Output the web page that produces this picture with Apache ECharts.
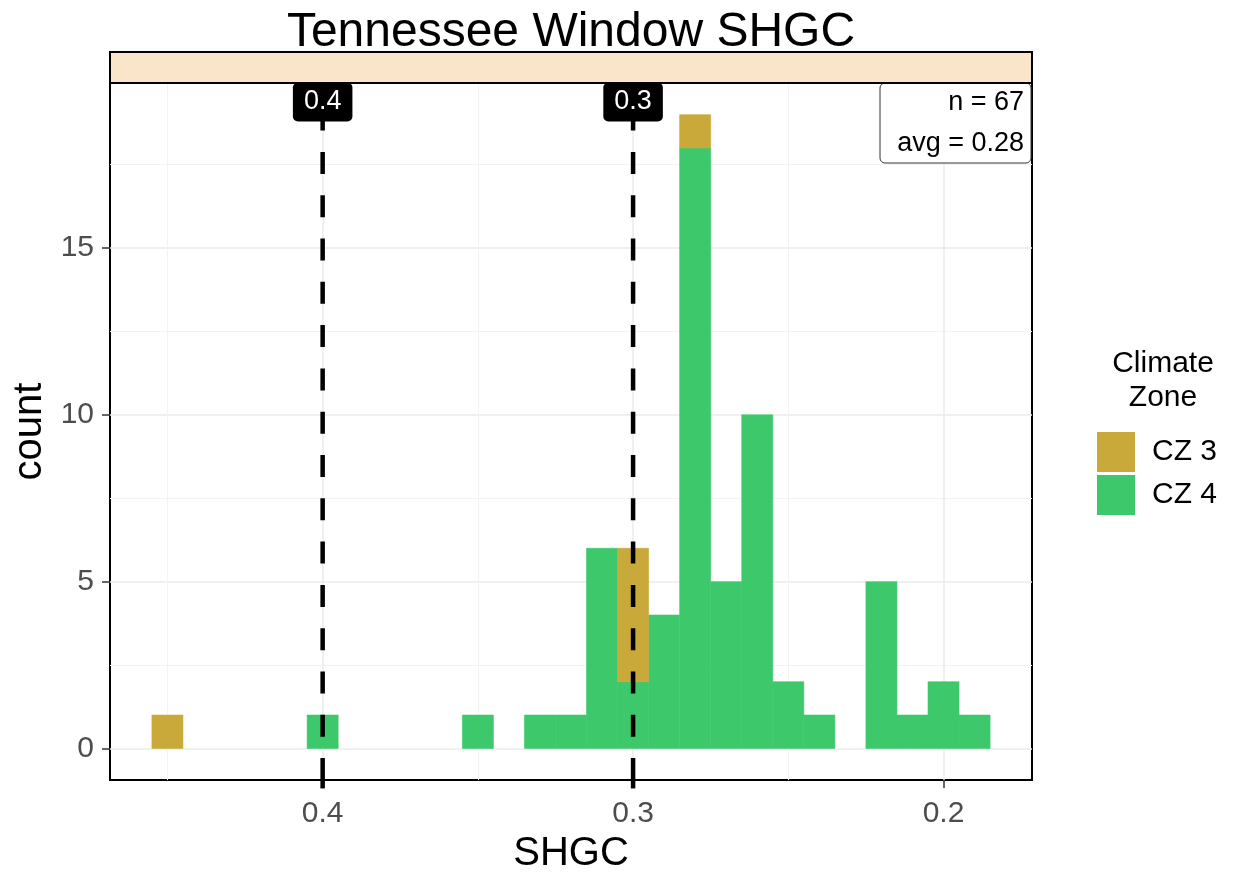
<!DOCTYPE html>
<html><head><meta charset="utf-8">
<script src="https://cdn.jsdelivr.net/npm/echarts@6/dist/echarts.min.js"></script>
<style>html,body{margin:0;padding:0;background:#fff}#c{width:1234px;height:879px}</style>
</head><body><div id="c"></div>
<script>
// ---- data ----
const binCenters = [0.45, 0.40, 0.35, 0.33, 0.32, 0.31, 0.30, 0.29, 0.28, 0.27, 0.26, 0.25, 0.24, 0.22, 0.21, 0.20, 0.19];
const cz3Counts  = [1,    0,    0,    0,    0,    0,    4,    0,    1,    0,    0,    0,    0,    0,    0,    0,    0];
const cz4Counts  = [0,    1,    1,    1,    1,    6,    2,    4,    18,   5,    10,   2,    1,    5,    1,    2,    1];
const binWidth = 0.01;
const seriesNames = ['CZ 3', 'CZ 4'];
const refLines = [0.4, 0.3];
const refLabels = ['0.4', '0.3'];
const xTicks = [0.4, 0.3, 0.2];
const xTickLabels = ['0.4', '0.3', '0.2'];
const xMinorTicks = [0.45, 0.35, 0.25];
const yTicks = [0, 5, 10, 15];
const yTickLabels = ['0', '5', '10', '15'];
const yMinorTicks = [2.5, 7.5, 12.5, 17.5];
const xRange = [0.1715, 0.4685];
const yRange = [-0.95, 19.95];
const nObs = 67;
const avgVal = 0.28;
const titleText = 'Tennessee Window SHGC';
const xName = 'SHGC', yName = 'count';
const legendTitle = 'Climate\nZone';

// ---- build ----
const FONT = 'Liberation Sans, Arial, Helvetica, sans-serif';
const COL3 = '#C9A93A', COL4 = '#3DC96B';

const cz4Data = [], cz3Data = [];
binCenters.forEach((c, i) => {
  if (cz4Counts[i] > 0) cz4Data.push([c, 0, cz4Counts[i]]);
  if (cz3Counts[i] > 0) cz3Data.push([c, cz4Counts[i], cz4Counts[i] + cz3Counts[i]]);
});

function barRender(params, api) {
  const c = api.value(0), y0 = api.value(1), y1 = api.value(2);
  const p0 = api.coord([c + binWidth / 2, y1]);
  const p1 = api.coord([c - binWidth / 2, y0]);
  const x = Math.min(p0[0], p1[0]), w = Math.abs(p1[0] - p0[0]);
  const y = Math.min(p0[1], p1[1]), h = Math.abs(p1[1] - p0[1]);
  const col = api.visual('color');
  return { type: 'rect', shape: { x: x, y: y, width: w, height: h },
           style: { fill: col, stroke: col, lineWidth: 0.6 } };
}

function vlineRender(params, api) {
  const v = api.value(0);
  const idx = params.dataIndex;
  const pBot = api.coord([v, yRange[0]]);
  const pTop = api.coord([v, yRange[1]]);
  const pExt = api.coord([v, -1.2]);
  return {
    type: 'group',
    children: [
      { type: 'line', shape: { x1: pBot[0], y1: pBot[1], x2: pTop[0], y2: pTop[1] },
        style: { stroke: '#000', lineWidth: 4.5, lineDash: [22, 21.3] } },
      { type: 'line', shape: { x1: pBot[0], y1: pBot[1], x2: pExt[0], y2: pExt[1] },
        style: { stroke: '#000', lineWidth: 4.5 } },
      { type: 'text', x: pTop[0], y: pTop[1] + 19,
        style: { text: refLabels[idx], align: 'center', verticalAlign: 'middle',
                 fill: '#fff', font: '27px ' + FONT, backgroundColor: '#000',
                 borderRadius: 5, padding: [6, 11, 6, 11] } }
    ]
  };
}

// annotation box anchored to the top-right corner of the panel
function annotRender(params, api) {
  const corner = api.coord([xRange[0], yRange[1]]);
  const rx = corner[0], ty = corner[1];
  return {
    type: 'group',
    children: [
      { type: 'rect', shape: { x: rx - 152, y: ty, width: 151, height: 80, r: 5 },
        style: { fill: '#fff', stroke: '#333', lineWidth: 1 } },
      { type: 'text', x: rx - 8, y: ty + 20,
        style: { text: 'n = ' + nObs, align: 'right', verticalAlign: 'middle', font: '27px ' + FONT, fill: '#000' } },
      { type: 'text', x: rx - 8, y: ty + 61,
        style: { text: 'avg = ' + avgVal.toFixed(2), align: 'right', verticalAlign: 'middle', font: '27px ' + FONT, fill: '#000' } }
    ]
  };
}

const chart = echarts.init(document.getElementById('c'), null, { renderer: 'canvas' });
chart.setOption({
  animation: false,
  backgroundColor: '#fff',
  title: {
    text: titleText, left: 571, top: 9, padding: 0, textAlign: 'center',
    textStyle: { fontSize: 48, fontWeight: 'normal', color: '#000', fontFamily: FONT }
  },
  grid: { left: 110, right: 202, top: 83, bottom: 97, show: true, borderColor: '#000', borderWidth: 2, backgroundColor: 'transparent', containLabel: false },
  xAxis: [
    { type: 'value', inverse: true, min: xRange[0], max: xRange[1], position: 'bottom',
      name: xName, nameLocation: 'middle', nameGap: 53,
      nameTextStyle: { fontSize: 40, color: '#000', fontFamily: FONT },
      axisLine: { show: false, onZero: false },
      axisTick: { show: true, length: 8, inside: false, customValues: xTicks, lineStyle: { color: '#333', width: 1.5 } },
      axisLabel: { show: true, customValues: xTicks, margin: 19, fontSize: 30, color: '#4D4D4D', fontFamily: FONT,
                   formatter: v => xTickLabels[xTicks.findIndex(t => Math.abs(t - v) < 1e-9)] },
      splitLine: { show: true, lineStyle: { color: '#EBEBEB', width: 1.5 } } },
    { type: 'value', inverse: true, min: xRange[0], max: xRange[1], position: 'top', gridIndex: 0,
      axisLine: { show: false, onZero: false }, axisLabel: { show: false },
      axisTick: { show: false, customValues: xMinorTicks },
      splitLine: { show: true, lineStyle: { color: '#F3F3F3', width: 1 } } }
  ],
  yAxis: [
    { type: 'value', min: yRange[0], max: yRange[1], position: 'left',
      name: yName, nameLocation: 'middle', nameGap: 60, nameRotate: 90,
      nameTextStyle: { fontSize: 40, color: '#000', fontFamily: FONT },
      axisLine: { show: false, onZero: false },
      axisTick: { show: true, length: 8, inside: false, customValues: yTicks, lineStyle: { color: '#333', width: 1.5 } },
      axisLabel: { show: true, customValues: yTicks, margin: 16, fontSize: 30, color: '#4D4D4D', fontFamily: FONT,
                   formatter: v => yTickLabels[yTicks.findIndex(t => Math.abs(t - v) < 1e-9)] },
      splitLine: { show: true, lineStyle: { color: '#EBEBEB', width: 1.5 } } },
    { type: 'value', min: yRange[0], max: yRange[1], position: 'right', gridIndex: 0,
      axisLine: { show: false, onZero: false }, axisLabel: { show: false },
      axisTick: { show: false, customValues: yMinorTicks },
      splitLine: { show: true, lineStyle: { color: '#F3F3F3', width: 1 } } }
  ],
  legend: {
    orient: 'vertical', left: 1097, top: 432, itemWidth: 38, itemHeight: 40, itemGap: 3,
    icon: 'rect', data: seriesNames, selectedMode: false, padding: 0,
    textStyle: { fontSize: 30, color: '#000', fontFamily: FONT, padding: [0, 0, 0, 12] }
  },
  graphic: [
    { type: 'rect', shape: { x: 110, y: 52, width: 922, height: 31 },
      style: { fill: '#FBE5CA', stroke: '#000', lineWidth: 2 }, z: 10 },
    { type: 'text', x: 1163, y: 381, z: 10,
      style: { text: legendTitle, align: 'center', verticalAlign: 'middle', font: '30px ' + FONT,
               lineHeight: 34, fill: '#000' } }
  ],
  series: [
    { name: seriesNames[1], type: 'custom', renderItem: barRender, data: cz4Data,
      itemStyle: { color: COL4 }, encode: { x: 0, y: [1, 2] }, clip: true, z: 2 },
    { name: seriesNames[0], type: 'custom', renderItem: barRender, data: cz3Data,
      itemStyle: { color: COL3 }, encode: { x: 0, y: [1, 2] }, clip: true, z: 2 },
    { name: 'refLines', type: 'custom', renderItem: vlineRender, data: refLines.map(v => [v, 0]),
      encode: { x: 0, y: 1 }, clip: false, z: 5, silent: true },
    { name: 'annotation', type: 'custom', renderItem: annotRender, data: [[xRange[0], yRange[1]]],
      encode: { x: 0, y: 1 }, clip: false, z: 6, silent: true }
  ]
});
</script></body></html>
